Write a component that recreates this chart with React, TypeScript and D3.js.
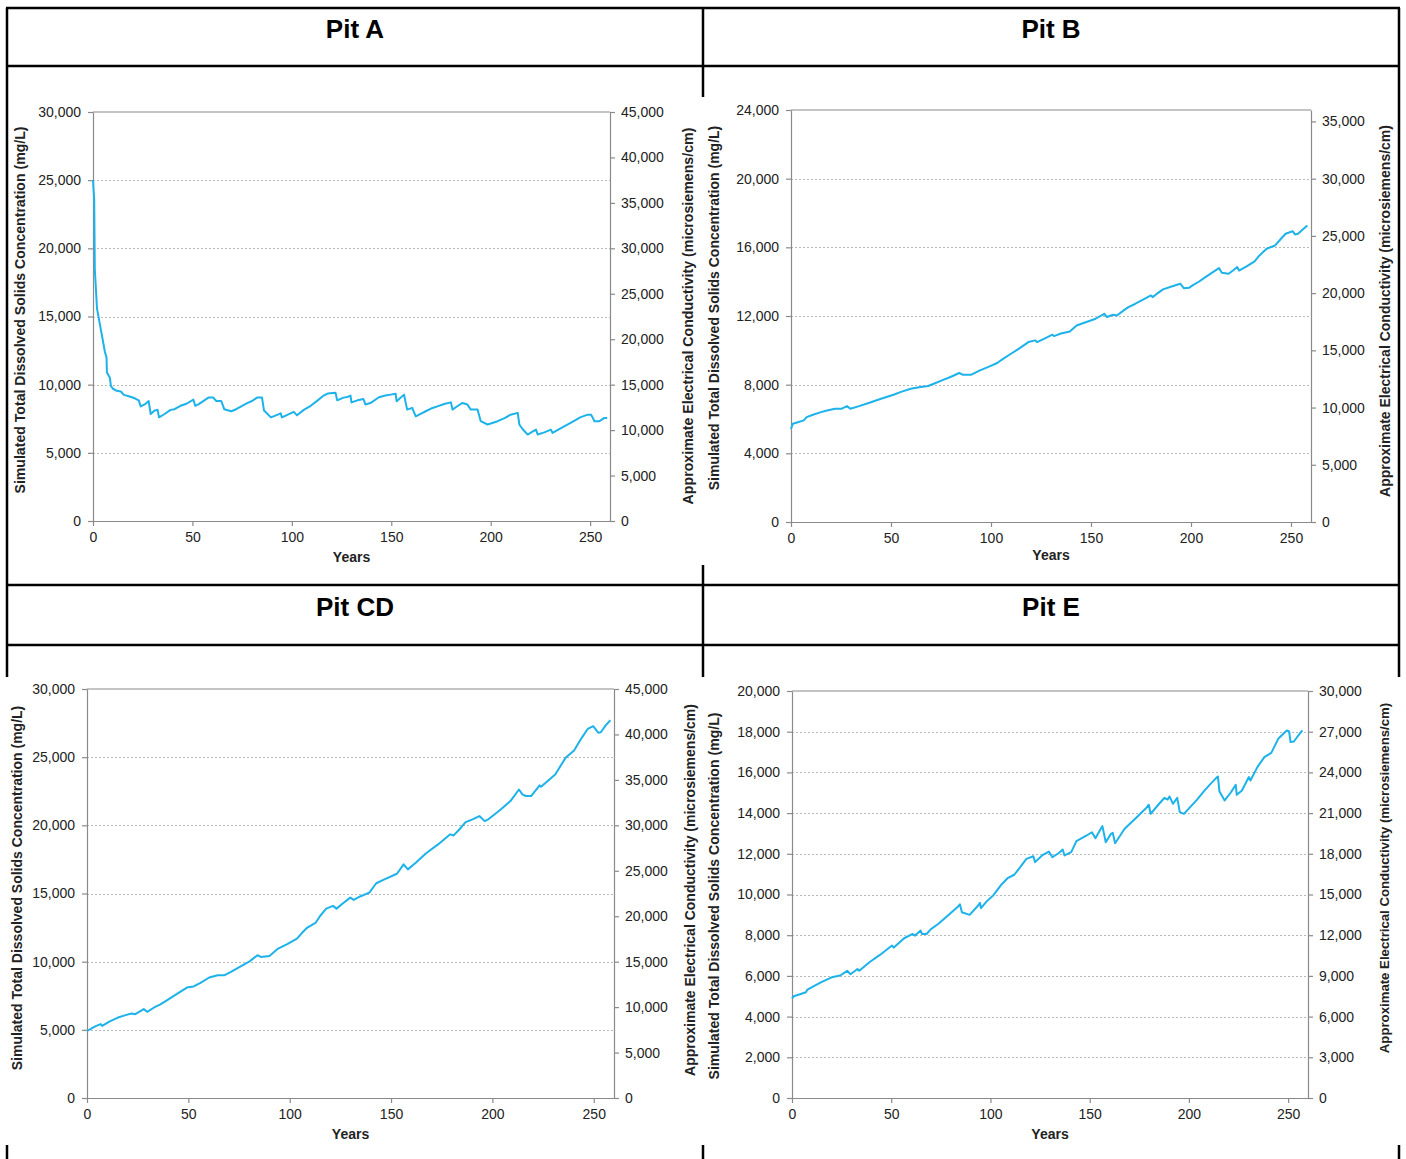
import React, { useEffect, useRef } from "react";
import * as d3 from "d3";

// years on the x axis
const yearTicks = [0, 50, 100, 150, 200, 250];

// [year, TDS mg/L]
const pitA: [number, number][] = [
  [0, 25000], [0.3, 24300], [0.6, 23600], [0.9, 18500], [2, 15600], [4, 14000], [6, 12400], [6.8, 12000],
  [7, 10900], [8.5, 10500], [9, 9900], [10, 9700], [12, 9550], [14, 9500], [15.5, 9250], [18, 9150],
  [21, 9000], [23, 8850], [24, 8400], [26, 8550], [28, 8800], [29, 7850], [31, 8100], [32.5, 8150],
  [33.2, 7600], [36, 7850], [39, 8150], [41, 8200], [44, 8450], [47, 8600], [50.5, 8900], [51.4, 8450],
  [53, 8550], [56, 8850], [58, 9050], [60.5, 9050], [62, 8800], [64.5, 8800], [66, 8200], [69.5, 8050],
  [72, 8200], [75, 8450], [77.5, 8650], [80, 8800], [82.5, 9050], [85, 9050], [86, 8100], [89.5, 7600],
  [92, 7750], [94.4, 7900], [95, 7600], [98, 7800], [101, 8000], [102.6, 7750], [106, 8150], [109.5, 8450],
  [113, 8850], [116, 9200], [118, 9350], [122, 9400], [122.8, 8850], [126, 9050], [128, 9100], [129.5, 9200],
  [130, 8700], [133, 8850], [136, 8950], [137, 8550], [139.5, 8650], [143.8, 9080], [147, 9200], [149.7, 9270],
  [152.2, 9340], [152.7, 8780], [156.4, 9270], [158, 8170], [160.5, 8300], [162.3, 7680], [165, 7880],
  [167.3, 8050], [170, 8250], [173.2, 8410], [177, 8600], [180, 8700], [180.8, 8170], [183, 8400],
  [185.8, 8660], [188.3, 8540], [190, 8170], [193.4, 8170], [195, 7320], [198.4, 7080], [200, 7150],
  [203.5, 7320], [207, 7550], [210, 7800], [213.6, 7930], [214.4, 7080], [216, 6750], [218.6, 6340],
  [221, 6550], [222.8, 6700], [223.6, 6340], [227, 6500], [230.3, 6700], [231.1, 6460], [234, 6700],
  [238.8, 7080], [242, 7350], [245, 7600], [248.8, 7800], [250.5, 7800], [252.2, 7320], [254.7, 7320],
  [257.2, 7560], [258.6, 7560],
];

const pitB: [number, number][] = [
  [0, 5430], [0.9, 5720], [3, 5800], [6.4, 5920], [7.8, 6110], [11, 6250], [15, 6400], [18, 6500],
  [22, 6600], [25.4, 6600], [28, 6750], [29.7, 6600], [34, 6750], [39.2, 6950], [45, 7180], [51.3, 7410],
  [55, 7580], [59.9, 7760], [64, 7850], [68.6, 7920], [72, 8080], [75.5, 8250], [80, 8460], [84.1, 8680],
  [85.8, 8580], [90.2, 8580], [94.5, 8830], [99, 9050], [103.1, 9260], [106, 9500], [110, 9800], [114, 10100],
  [118.7, 10480], [122.1, 10580], [123, 10480], [127, 10700], [130.7, 10910], [131.5, 10830], [135, 10980],
  [139.4, 11100], [142.8, 11450], [147, 11620], [152.3, 11840], [156.6, 12130], [158, 11940], [161, 12070],
  [163, 12030], [166, 12300], [168.7, 12520], [172, 12700], [176, 12950], [180, 13200], [180.8, 13100],
  [183, 13300], [186, 13550], [190.3, 13720], [194.6, 13880], [196.4, 13620], [199, 13640], [201, 13800],
  [204.1, 14010], [207, 14250], [210.2, 14500], [214, 14790], [215.4, 14520], [218.8, 14460], [221, 14650],
  [223.1, 14850], [224, 14650], [228, 14900], [231.8, 15180], [234, 15500], [237.8, 15920], [242.1, 16110],
  [245, 16500], [247.3, 16790], [250.8, 16940], [252, 16750], [253.5, 16790], [256, 17050], [258.2, 17270],
];

const pitCD: [number, number][] = [
  [0, 4930], [1.7, 5050], [4, 5250], [6.8, 5420], [7.5, 5290], [11, 5600], [15.3, 5900], [19, 6080],
  [22, 6200], [23.8, 6150], [28, 6520], [29.7, 6320], [33.1, 6640], [36, 6850], [39, 7130], [44, 7600],
  [49.3, 8100], [52.6, 8180], [56, 8450], [60.3, 8840], [64.5, 9010], [67.9, 9010], [71, 9250], [74.7, 9570],
  [79.8, 9980], [84.1, 10470], [85.8, 10350], [90, 10420], [94.3, 10960], [99, 11300], [103.6, 11690],
  [106, 12100], [108.7, 12500], [112.9, 12870], [115, 13350], [118, 13890], [121.4, 14090], [123.1, 13890],
  [126, 14250], [129.9, 14700], [131.6, 14530], [135, 14800], [139.3, 15060], [142.7, 15750], [147, 16050],
  [152.9, 16450], [156.2, 17140], [158.3, 16770], [162.2, 17260], [167.3, 17950], [173.2, 18600],
  [176, 18950], [179.2, 19340], [180.9, 19260], [184, 19750], [186.8, 20240], [190.2, 20440], [193.6, 20680],
  [196.2, 20310], [198, 20440], [201, 20800], [203.8, 21120], [208.9, 21780], [213.1, 22630], [214.8, 22270],
  [216.5, 22150], [219.1, 22150], [223.3, 22930], [224, 22830], [228, 23350], [231, 23730], [236.1, 24950],
  [240.3, 25490], [244, 26400], [247.1, 27080], [249.7, 27270], [250.8, 27080], [252.2, 26790], [253.5, 26830],
  [256, 27350], [258.2, 27710],
];

const pitE: [number, number][] = [
  [0, 4900], [0.9, 5000], [4, 5100], [7, 5200], [7.8, 5330], [11, 5500], [14.8, 5690], [20, 5930],
  [24.3, 6020], [27.8, 6250], [29.5, 6080], [33, 6340], [33.9, 6250], [39, 6670], [44.3, 7030], [50.4, 7490],
  [51.3, 7390], [56.5, 7850], [60.8, 8060], [62, 7980], [64.8, 8230], [65.5, 8060], [67.8, 8060], [70, 8300],
  [73.8, 8560], [79, 9000], [83.4, 9380], [84.6, 9520], [85.6, 9130], [89.5, 9000], [93.8, 9460], [94.7, 9590],
  [95.2, 9330], [98, 9650], [101.6, 9980], [105.1, 10440], [108.6, 10800], [112, 10970], [115, 11350],
  [118.1, 11750], [121.6, 11880], [122.5, 11590], [126, 11920], [129.4, 12110], [131.2, 11830], [134.6, 12050],
  [136.4, 12210], [137.3, 11920], [140.7, 12080], [143.3, 12620], [148.5, 12900], [151.1, 13060],
  [152.9, 12770], [156.4, 13360], [158.1, 12570], [160.7, 12980], [161.6, 13030], [162.8, 12520],
  [167.6, 13230], [173.7, 13800], [178.1, 14210], [179.8, 14410], [180.7, 13960], [185, 14460], [187.6, 14740],
  [189.3, 14670], [190.2, 14820], [192, 14460], [194.1, 14750], [195.4, 14050], [197.5, 13960], [199.8, 14210],
  [204, 14650], [207.6, 15080], [211, 15450], [213.7, 15720], [214.6, 15800], [215.4, 15060], [218, 14620],
  [221, 15000], [223.6, 15390], [224.1, 14900], [226.7, 15110], [230.2, 15770], [231, 15600], [234.5, 16260],
  [238, 16750], [241.5, 16960], [245, 17650], [249.3, 18060], [250.5, 18010], [251.2, 17490], [252.9, 17520],
  [255, 17800], [257.1, 18060],
];

const titles = ["Pit A", "Pit B", "Pit CD", "Pit E"];
const series = [pitA, pitB, pitCD, pitE];
const tdsMax = [30000, 24000, 30000, 20000];
const tdsStep = [5000, 4000, 5000, 2000];
const ecMax = [45000, 36000, 45000, 30000];
const ecStep = [5000, 5000, 5000, 3000];

// where each chart sits on the page
const frames = [
  { left: 93, right: 610, top: 112, bottom: 521, tx: 355, ty: 29, lt: [20, 310], rt: [688, 316], yearsY: 557, ltSize: 14.1, rtSize: 14.2 },
  { left: 791, right: 1311, top: 110, bottom: 522, tx: 1051, ty: 29, lt: [714, 308], rt: [1385, 311], yearsY: 555, ltSize: 14, rtSize: 14 },
  { left: 87, right: 614, top: 689, bottom: 1098, tx: 355, ty: 607, lt: [17, 888], rt: [690, 890], yearsY: 1134, ltSize: 14, rtSize: 14 },
  { left: 792, right: 1308, top: 691, bottom: 1098, tx: 1051, ty: 607, lt: [714, 896], rt: [1384, 878], yearsY: 1134, ltSize: 14.1, rtSize: 13.2 },
];

const FONT = "'Liberation Sans', Arial, sans-serif";
const AXIS = "#8a8a8a";
const LINE = "#1db2ea";

export default function App() {
  const ref = useRef<SVGSVGElement>(null);

  useEffect(() => {
    const svg = d3.select(ref.current);
    svg.selectAll("*").remove();
    svg.append("rect").attr("width", 1406).attr("height", 1159).attr("fill", "#fff");

    // table borders
    const border = svg.append("g").attr("stroke", "#000").attr("stroke-width", 2.5);
    [8, 66, 585, 645].forEach((yy) =>
      border.append("line").attr("x1", 6).attr("x2", 1400).attr("y1", yy).attr("y2", yy)
    );
    const vSegs = [
      [7, 8, 677], [7, 1145, 1159],
      [703, 8, 97], [703, 565, 677], [703, 1145, 1159],
      [1399, 8, 677], [1399, 1145, 1159],
    ];
    vSegs.forEach(([xx, y1, y2]) =>
      border.append("line").attr("x1", xx).attr("x2", xx).attr("y1", y1).attr("y2", y2)
    );

    frames.forEach((f, i) => {
      const x = d3.scaleLinear().domain([0, 260]).range([f.left, f.right]);
      const y = d3.scaleLinear().domain([0, tdsMax[i]]).range([f.bottom, f.top]);
      const y2 = d3.scaleLinear().domain([0, ecMax[i]]).range([f.bottom, f.top]);
      const g = svg.append("g").attr("font-family", FONT);

      g.append("text")
        .attr("x", f.tx).attr("y", f.ty)
        .attr("text-anchor", "middle").attr("dominant-baseline", "central")
        .attr("font-size", 26).attr("font-weight", "bold").attr("fill", "#000")
        .text(titles[i]);

      // dotted gridlines
      g.append("g")
        .selectAll("line")
        .data(d3.range(tdsStep[i], tdsMax[i], tdsStep[i]))
        .join("line")
        .attr("x1", f.left).attr("x2", f.right)
        .attr("y1", (d) => Math.round(y(d)) + 0.5).attr("y2", (d) => Math.round(y(d)) + 0.5)
        .attr("stroke", "#b8b8b8").attr("stroke-dasharray", "2,2");

      g.append("line")
        .attr("x1", f.left).attr("x2", f.right).attr("y1", f.top).attr("y2", f.top)
        .attr("stroke", AXIS).attr("stroke-width", 1.2);

      const style = (a) => {
        a.selectAll("path, line").attr("stroke", AXIS).attr("stroke-width", 1.2);
        a.selectAll("text").attr("fill", "#222").attr("font-size", 14).attr("font-family", FONT);
      };

      g.append("g")
        .attr("transform", `translate(${f.left},0)`)
        .call(d3.axisLeft(y).tickValues(d3.range(0, tdsMax[i] + 1, tdsStep[i]))
          .tickSize(5).tickSizeOuter(0).tickPadding(7).tickFormat(d3.format(",")))
        .call(style);

      g.append("g")
        .attr("transform", `translate(${f.right},0)`)
        .call(d3.axisRight(y2).tickValues(d3.range(0, ecMax[i] + 1, ecStep[i]))
          .tickSize(5).tickSizeOuter(0).tickPadding(6).tickFormat(d3.format(",")))
        .call(style);

      g.append("g")
        .attr("transform", `translate(0,${f.bottom})`)
        .call(d3.axisBottom(x).tickValues(yearTicks).tickSize(5).tickSizeOuter(0).tickPadding(6))
        .call(style);

      g.append("text")
        .attr("x", (f.left + f.right) / 2).attr("y", f.yearsY)
        .attr("text-anchor", "middle").attr("dominant-baseline", "central")
        .attr("font-size", 14).attr("font-weight", "bold").attr("fill", "#222")
        .text("Years");

      g.append("text")
        .attr("transform", `translate(${f.lt[0]},${f.lt[1]}) rotate(-90)`)
        .attr("text-anchor", "middle").attr("dominant-baseline", "central")
        .attr("font-size", f.ltSize).attr("font-weight", "bold").attr("fill", "#222")
        .text("Simulated Total Dissolved Solids Concentration (mg/L)");

      g.append("text")
        .attr("transform", `translate(${f.rt[0]},${f.rt[1]}) rotate(-90)`)
        .attr("text-anchor", "middle").attr("dominant-baseline", "central")
        .attr("font-size", f.rtSize).attr("font-weight", "bold").attr("fill", "#222")
        .text("Approximate Electrical Conductivity (microsiemens/cm)");

      const line = d3.line<[number, number]>().x((d) => x(d[0])).y((d) => y(d[1]));
      g.append("path")
        .datum(series[i])
        .attr("d", line)
        .attr("fill", "none")
        .attr("stroke", LINE)
        .attr("stroke-width", 2)
        .attr("stroke-linejoin", "round");
    });
  }, []);

  return (
    <svg
      ref={ref}
      width={1406}
      height={1159}
      style={{ position: "absolute", left: 0, top: 0, display: "block" }}
    />
  );
}
